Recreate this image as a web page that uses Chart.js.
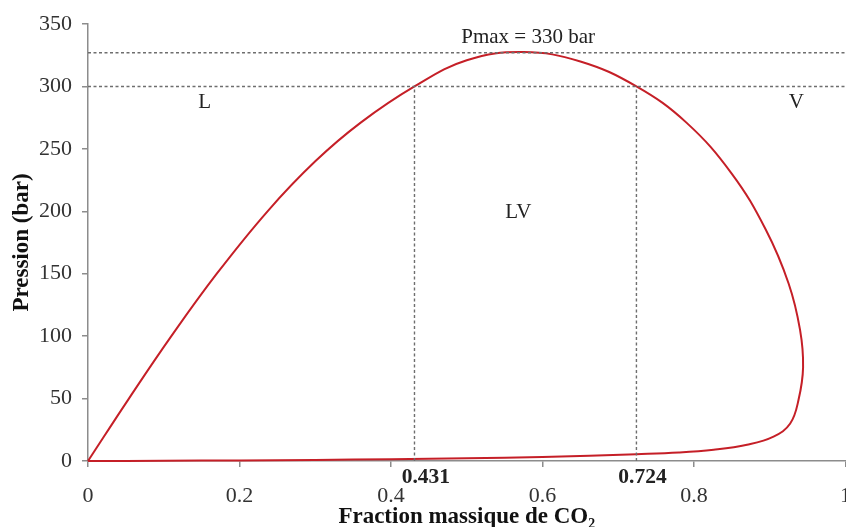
<!DOCTYPE html>
<html>
<head>
<meta charset="utf-8">
<script src="https://cdn.jsdelivr.net/npm/chart.js@4/dist/chart.umd.min.js"></script>
<style>
  html, body { margin: 0; padding: 0; background: #fff; overflow: hidden; }
  #wrap { width: 846px; height: 527px; overflow: hidden; }
</style>
</head>
<body>
<div id="wrap"><canvas id="chartPT"></canvas></div>
<script>
// Courbe de bulle (branche haute, de l'origine au nez de la courbe)
const bulleX = [0, 0.054, 0.11, 0.17, 0.237, 0.30, 0.36, 0.431, 0.50, 0.575, 0.65, 0.724,
                0.79, 0.85, 0.895, 0.925, 0.940];
const bulleY = [0, 50, 100, 150, 200, 240, 271, 300, 321, 327.5, 320, 300,
                271, 230, 185, 142, 105];

// Courbe de rosée (du nez jusqu'à l'origine, le long de l'axe)
const roseeX = [0.944, 0.938, 0.927, 0.905, 0.87, 0.826, 0.78, 0.724, 0.60, 0.50, 0.40,
                0.30, 0.20, 0.10, 0];
const roseeY = [75, 49, 30, 19.5, 13, 9, 6.8, 5.5, 3.2, 2.2, 1.4,
                0.9, 0.5, 0.2, 0];

// Repères pointillés
const pMax = 327;
const pRef = 300;
const xBulle300 = 0.431;
const xRosee300 = 0.724;

// Graduations
const xTicks = [0, 0.2, 0.4, 0.6, 0.8, 1];
const yTicks = [0, 50, 100, 150, 200, 250, 300, 350];

// Textes du graphique (coordonnées en unités des axes)
const etiquettes = [
    { text: 'Pmax = 330 bar', x: 0.581, y: 339, bold: false },
    { text: 'L', x: 0.154, y: 287, bold: false },
    { text: 'V', x: 0.935, y: 287, bold: false },
    { text: 'LV', x: 0.568, y: 199, bold: false },
    { text: '0.431', x: 0.446, y: -12.8, bold: true },
    { text: '0.724', x: 0.732, y: -12.8, bold: true }
];

const SERIF = '"Liberation Serif", "Times New Roman", serif';

const courbe = bulleX.map((x, i) => ({ x: x, y: bulleY[i] }))
    .concat(roseeX.map((x, i) => ({ x: x, y: roseeY[i] })));

function pointilles(points) {
    return {
        data: points,
        showLine: true,
        borderColor: '#6e6e6e',
        borderWidth: 1.4,
        borderDash: [3, 2.5],
        pointRadius: 0,
        tension: 0,
        clip: false
    };
}

const textesPlugin = {
    id: 'textes',
    afterDraw(chart) {
        const ctx = chart.ctx;
        const sx = chart.scales.x, sy = chart.scales.y;
        ctx.save();
        ctx.textAlign = 'center';
        ctx.textBaseline = 'middle';
        etiquettes.forEach(e => {
            ctx.font = (e.bold ? 'bold 21.5px ' : '21px ') + SERIF;
            ctx.fillStyle = '#222';
            ctx.fillText(e.text, sx.getPixelForValue(e.x), sy.getPixelForValue(e.y));
        });
        ctx.restore();
    }
};

const canvas = document.getElementById('chartPT');
canvas.width = 867;
canvas.height = 527;
canvas.style.width = '867px';
canvas.style.height = '527px';

new Chart(canvas, {
    type: 'scatter',
    data: {
        datasets: [
            pointilles([{ x: 0, y: pMax }, { x: 1, y: pMax }]),
            pointilles([{ x: 0, y: pRef }, { x: 1, y: pRef }]),
            pointilles([{ x: xBulle300, y: 0 }, { x: xBulle300, y: pRef }]),
            pointilles([{ x: xRosee300, y: 0 }, { x: xRosee300, y: pRef }]),
            {
                data: courbe,
                showLine: true,
                borderColor: '#c51f27',
                borderWidth: 2,
                pointRadius: 0,
                tension: 0.4,
                clip: false
            }
        ]
    },
    options: {
        responsive: false,
        animation: false,
        layout: { padding: { top: 24, right: 5, left: 0, bottom: 0 } },
        plugins: { legend: { display: false }, tooltip: { enabled: false } },
        scales: {
            x: {
                type: 'linear',
                min: 0,
                max: 1,
                afterBuildTicks: s => { s.ticks = xTicks.map(v => ({ value: v })); },
                afterFit: s => { s.height = 66; },
                grid: { drawOnChartArea: false, drawTicks: true, tickLength: 6, color: '#8c8c8c', lineWidth: 1.5 },
                border: { color: '#8c8c8c', width: 1.5 },
                ticks: {
                    color: '#333',
                    padding: 16,
                    maxRotation: 0,
                    font: { family: SERIF, size: 22 },
                    callback: v => String(v)
                },
                title: {
                    display: true,
                    text: 'Fraction massique de CO₂',
                    color: '#111',
                    padding: { top: 0, bottom: -4 },
                    font: { family: SERIF, size: 23, weight: 'bold' }
                }
            },
            y: {
                type: 'linear',
                min: 0,
                max: 350,
                afterBuildTicks: s => { s.ticks = yTicks.map(v => ({ value: v })); },
                afterFit: s => { s.width = 88; },
                grid: { drawOnChartArea: false, drawTicks: true, tickLength: 6, color: '#8c8c8c', lineWidth: 1.5 },
                border: { color: '#8c8c8c', width: 1.5 },
                ticks: {
                    color: '#333',
                    padding: 10,
                    font: { family: SERIF, size: 22 }
                },
                title: {
                    display: true,
                    text: 'Pression (bar)',
                    color: '#111',
                    padding: { top: 8, bottom: 0 },
                    font: { family: SERIF, size: 23, weight: 'bold' }
                }
            }
        }
    },
    plugins: [textesPlugin]
});
</script>
</body>
</html>
